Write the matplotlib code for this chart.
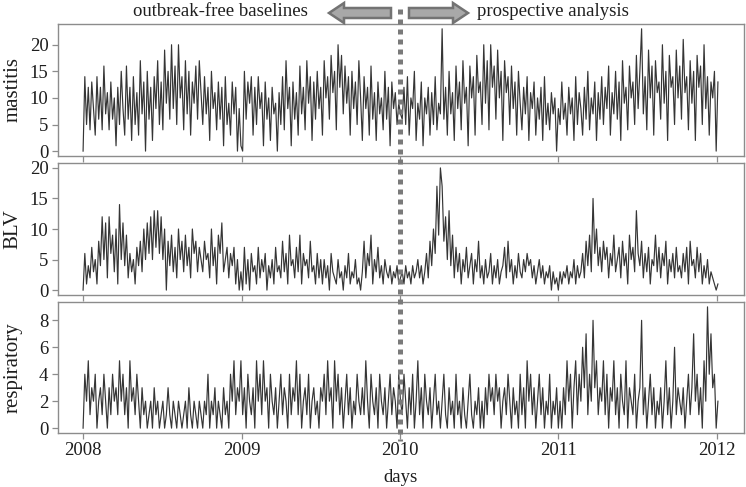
import matplotlib
matplotlib.use("Agg")
import matplotlib.pyplot as plt
import matplotlib.dates as mdates
from matplotlib.patches import FancyArrow
from matplotlib.lines import Line2D
import pandas as pd

# daily counts, one value every 4 days from 2008-01-01
mastitis = [
    0, 14, 5, 12, 4, 13, 8, 3, 14, 6, 12, 4, 16, 7, 11, 4, 13, 6, 10, 1, 12, 5, 15,
    8, 3, 16, 6, 12, 2, 14, 5, 11, 3, 17, 7, 13, 0, 15, 6, 12, 2, 14, 8, 17, 5, 13,
    4, 19, 9, 15, 6, 20, 8, 16, 5, 20, 10, 14, 4, 17, 7, 15, 3, 13, 9, 16, 6, 17, 11,
    5, 14, 7, 12, 2, 15, 8, 11, 4, 13, 6, 12, 1, 14, 5, 9, 3, 13, 7, 12, 0, 8, 1,
    0, 15, 6, 13, 9, 14, 3, 12, 5, 14, 8, 11, 1, 13, 6, 10, 2, 12, 7, 9, 0, 11, 5,
    14, 4, 17, 8, 12, 1, 13, 6, 11, 3, 16, 7, 12, 4, 17, 9, 14, 2, 13, 6, 15, 8, 12,
    3, 17, 10, 14, 6, 18, 11, 15, 4, 20, 12, 18, 7, 16, 9, 14, 3, 15, 8, 13, 5, 17, 10,
    2, 14, 8, 12, 3, 16, 6, 11, 2, 13, 7, 10, 4, 15, 6, 12, 1, 13, 8, 11, 5, 9, 7,
    6, 12, 5, 14, 3, 10, 8, 15, 2, 9, 6, 13, 1, 10, 7, 12, 3, 11, 5, 14, 4, 9, 7,
    23, 6, 12, 3, 15, 7, 11, 2, 16, 8, 13, 4, 17, 9, 12, 1, 16, 10, 14, 3, 18, 11, 13,
    5, 20, 9, 17, 4, 20, 12, 16, 6, 19, 10, 15, 2, 17, 11, 14, 5, 16, 8, 13, 3, 15, 9,
    4, 12, 7, 14, 2, 11, 8, 13, 3, 10, 6, 12, 2, 14, 5, 9, 4, 11, 7, 10, 0, 8, 5,
    13, 6, 9, 3, 12, 7, 10, 2, 14, 5, 11, 8, 3, 12, 6, 15, 4, 10, 7, 13, 2, 11, 6,
    14, 5, 12, 8, 16, 3, 11, 7, 15, 6, 13, 2, 17, 9, 12, 4, 16, 10, 13, 5, 18, 8, 15,
    23, 7, 14, 4, 19, 10, 16, 3, 17, 11, 13, 6, 20, 9, 15, 2, 18, 12, 14, 5, 19, 10, 16,
    6, 21, 11, 14, 4, 17, 9, 15, 2, 18, 12, 16, 5, 20, 8, 14, 3, 13, 10, 15, 0, 13,
]

blv = [
    0, 6, 1, 4, 2, 7, 3, 5, 1, 8, 4, 12, 5, 11, 2, 12, 6, 9, 3, 10, 1, 14, 5,
    11, 4, 9, 2, 6, 3, 5, 1, 7, 4, 8, 3, 10, 5, 11, 6, 12, 5, 13, 7, 13, 6, 12,
    5, 10, 0, 8, 4, 9, 3, 7, 2, 10, 5, 8, 3, 9, 4, 7, 2, 10, 6, 8, 3, 7, 5,
    3, 8, 5, 6, 2, 10, 4, 7, 1, 9, 6, 11, 3, 5, 7, 2, 6, 4, 7, 1, 5, 0, 3,
    0, 7, 1, 5, 0, 6, 3, 4, 1, 7, 2, 5, 3, 6, 0, 4, 2, 5, 1, 7, 3, 4, 2,
    8, 3, 6, 1, 9, 4, 5, 2, 7, 3, 9, 1, 6, 4, 5, 2, 8, 3, 4, 1, 6, 2, 5,
    1, 5, 2, 4, 0, 6, 3, 2, 1, 5, 2, 3, 0, 4, 2, 6, 1, 3, 2, 5, 1, 2, 0,
    3, 8, 2, 6, 4, 9, 1, 5, 3, 7, 2, 4, 1, 5, 3, 2, 4, 1, 3, 2, 4, 1, 2,
    3, 1, 4, 2, 3, 1, 4, 2, 3, 5, 2, 4, 1, 3, 6, 2, 8, 4, 10, 6, 17, 9, 20,
    17, 8, 12, 5, 13, 4, 9, 2, 7, 3, 6, 1, 5, 3, 7, 2, 4, 6, 1, 5, 3, 8, 2,
    4, 1, 5, 2, 3, 6, 1, 4, 2, 5, 1, 3, 4, 7, 2, 8, 3, 5, 1, 4, 2, 6, 3,
    2, 5, 3, 6, 4, 5, 2, 4, 1, 3, 5, 2, 4, 1, 3, 2, 4, 0, 3, 1, 2, 0, 3,
    1, 3, 2, 4, 1, 3, 2, 5, 1, 4, 2, 3, 6, 2, 8, 4, 9, 3, 15, 6, 10, 4, 7,
    3, 8, 5, 7, 2, 6, 4, 9, 3, 5, 7, 2, 8, 4, 6, 1, 9, 5, 7, 3, 13, 6, 4,
    8, 2, 6, 3, 7, 1, 5, 4, 9, 3, 7, 2, 6, 4, 8, 1, 5, 3, 6, 2, 7, 3, 4,
    2, 6, 3, 7, 1, 8, 4, 5, 2, 7, 3, 6, 1, 4, 2, 5, 1, 3, 2, 1, 0, 1,
]

respiratory = [
    0, 4, 2, 5, 1, 3, 2, 4, 0, 2, 3, 1, 4, 2, 0, 3, 1, 4, 2, 3, 1, 5, 2,
    4, 1, 3, 0, 5, 2, 3, 1, 4, 2, 0, 3, 1, 2, 0, 1, 2, 0, 3, 1, 2, 0, 1,
    2, 0, 1, 3, 1, 0, 2, 1, 0, 2, 1, 0, 1, 2, 0, 3, 1, 0, 2, 1, 0, 2, 1,
    0, 2, 1, 4, 0, 2, 1, 3, 0, 2, 1, 0, 3, 1, 2, 0, 4, 2, 5, 1, 3, 2, 5,
    1, 3, 0, 4, 2, 1, 3, 0, 5, 2, 4, 1, 5, 2, 3, 0, 4, 2, 1, 3, 0, 2, 4,
    1, 3, 2, 0, 4, 1, 3, 2, 5, 1, 4, 0, 2, 3, 1, 4, 0, 2, 3, 1, 2, 0, 3,
    2, 4, 1, 5, 2, 3, 0, 5, 2, 4, 1, 3, 0, 2, 4, 1, 3, 0, 2, 1, 4, 2, 1,
    3, 1, 5, 2, 0, 4, 2, 1, 3, 0, 4, 2, 1, 3, 0, 2, 4, 1, 3, 2, 0, 4, 2,
    1, 4, 2, 0, 3, 1, 4, 0, 2, 5, 1, 3, 0, 4, 2, 1, 3, 0, 2, 4, 1, 2, 0,
    2, 4, 1, 0, 3, 1, 2, 0, 4, 1, 2, 0, 3, 1, 0, 2, 4, 1, 0, 2, 1, 3, 0,
    2, 0, 3, 1, 4, 2, 3, 1, 4, 2, 3, 0, 2, 3, 1, 4, 2, 0, 3, 1, 2, 0, 4,
    1, 3, 0, 5, 2, 4, 1, 3, 0, 2, 4, 1, 3, 0, 2, 1, 4, 0, 2, 1, 3, 0, 2,
    0, 3, 1, 5, 2, 4, 0, 3, 5, 1, 4, 2, 6, 3, 7, 1, 4, 2, 8, 3, 5, 1, 3,
    2, 5, 1, 4, 0, 3, 2, 5, 1, 3, 0, 4, 2, 1, 5, 0, 3, 2, 1, 4, 0, 2, 3,
    8, 1, 3, 0, 2, 4, 1, 3, 0, 2, 1, 3, 0, 2, 5, 1, 3, 0, 2, 6, 1, 3, 2,
    1, 3, 0, 2, 4, 1, 3, 7, 2, 4, 1, 3, 0, 5, 2, 9, 4, 7, 3, 4, 0, 2,
]

panel_names = ["mastitis", "BLV", "respiratory"]
panel_yticks = [[0, 5, 10, 15, 20], [0, 5, 10, 15, 20], [0, 2, 4, 6, 8]]
panel_ylims = [(-0.92, 23.9), (-0.8, 20.8), (-0.36, 9.36)]
year_ticks = ["2008", "2009", "2010", "2011", "2012"]

plt.rcParams["font.family"] = ["Liberation Serif", "DejaVu Serif"]
frame_col = "#8c8c8c"
line_col = "#353535"
txt_col = "#1e1e1e"

fig = plt.figure(figsize=(7.46, 4.87), dpi=100)

# panel boxes, measured in pixels (top, bottom)
left, right = 57.5, 743.5
boxes = [(24, 156), (163, 295), (302, 433)]
W, H = 746.0, 487.0

tick_dates = pd.to_datetime([y + "-01-01" for y in year_ticks])
x_lo = pd.Timestamp("2008-01-01") - pd.Timedelta(days=59)
x_hi = pd.Timestamp("2012-01-01") + pd.Timedelta(days=62)

axes = []
for i, values in enumerate([mastitis, blv, respiratory]):
    top, bot = boxes[i]
    ax = fig.add_axes([left / W, 1 - bot / H, (right - left) / W, (bot - top) / H])
    days = pd.date_range("2008-01-01", periods=len(values), freq="4D")
    ax.plot(days, values, color=line_col, lw=0.85)
    ax.set_xlim(x_lo, x_hi)
    ax.set_ylim(*panel_ylims[i])
    ax.set_yticks(panel_yticks[i])
    ax.set_xticks(tick_dates)
    if i == 2:
        ax.set_xticklabels(year_ticks)
    else:
        ax.set_xticklabels([])
    for s in ax.spines.values():
        s.set_color(frame_col)
        s.set_linewidth(1.0)
    ax.tick_params(direction="out", length=4.5, width=0.9, color=frame_col,
                   labelsize=13.5, labelcolor=txt_col, pad=2)
    fig.text(13 / W, 1 - (top + bot) / 2 / H, panel_names[i], rotation=90,
             ha="center", va="center", fontsize=15, color=txt_col)
    axes.append(ax)

fig.text(400 / W, 1 - 478 / H, "days", ha="center", va="center", fontsize=13.5, color=txt_col)

# overlay in pixel units for the split line and arrows
ov = fig.add_axes([0, 0, 1, 1])
ov.set_xlim(0, W)
ov.set_ylim(H, 0)
ov.set_axis_off()

x2010 = axes[0].transData.transform((mdates.date2num(pd.Timestamp("2010-01-01")), 0))[0]
ov.add_line(Line2D([x2010, x2010], [9, 441], color="#7a7a7a", lw=3.6,
                   linestyle=(0, (1, 1)), dash_capstyle="butt"))

arrow_kw = dict(width=10, head_width=20, head_length=15, length_includes_head=True,
                facecolor="#a8a8a8", edgecolor="#737373", lw=1.8)
ov.add_patch(FancyArrow(391, 13, -62, 0, **arrow_kw))
ov.add_patch(FancyArrow(409, 13, 59, 0, **arrow_kw))

ov.text(220, 12, "outbreak-free baselines", ha="center", va="center", fontsize=13.5, color=txt_col)
ov.text(553, 12, "prospective analysis", ha="center", va="center", fontsize=13.5, color=txt_col)

fig.savefig("out.png", dpi=100)
